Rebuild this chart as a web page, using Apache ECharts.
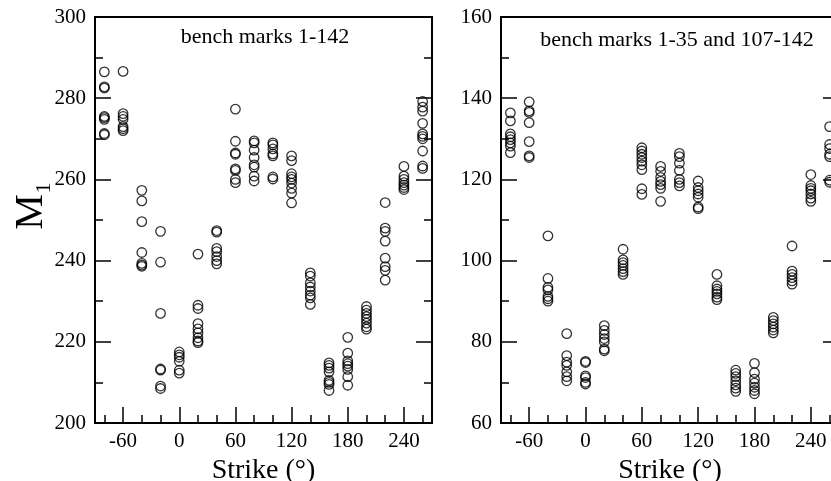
<!DOCTYPE html>
<html>
<head>
<meta charset="utf-8">
<script src="https://cdn.jsdelivr.net/npm/echarts@6/dist/echarts.min.js"></script>
<style>html,body{margin:0;padding:0;background:#fff;}#c{width:831px;height:481px;}</style>
</head>
<body>
<div id="c"></div>
<script>
// Strike columns (degrees)
const strikes = [-80, -60, -40, -20, 0, 20, 40, 60, 80, 100, 120, 140, 160, 180, 200, 220, 240, 260];
// Left panel: bench marks 1-142, M1 values per strike column
const leftM1 = [
  [286.5, 282.5, 282.8, 275.2, 275.5, 274.8, 271.0, 271.3],
  [286.6, 276.2, 275.5, 274.8, 273.0, 272.5, 272.0],
  [257.3, 254.7, 249.6, 242.0, 239.3, 238.9, 238.6],
  [247.2, 239.6, 227.0, 213.3, 213.0, 209.1, 208.5],
  [217.5, 216.8, 216.2, 215.2, 213.0, 212.3],
  [241.6, 229.0, 228.2, 224.5, 223.2, 222.2, 221.0, 220.2, 219.8],
  [247.4, 247.0, 243.0, 242.2, 241.0, 240.0, 239.2],
  [277.3, 269.4, 266.5, 266.2, 262.6, 262.2, 260.0, 259.2],
  [269.5, 269.0, 267.2, 265.4, 263.6, 263.0, 260.8, 259.6],
  [269.0, 268.5, 267.5, 266.3, 265.8, 260.6, 260.1],
  [265.8, 264.6, 261.4, 260.6, 260.0, 259.1, 257.8, 256.6, 254.2],
  [237.0, 236.2, 234.5, 233.5, 232.5, 231.5, 230.8, 229.2],
  [214.8, 214.2, 213.5, 212.6, 210.5, 210.0, 209.5, 208.0],
  [221.1, 217.2, 215.3, 214.6, 214.0, 213.2, 211.4, 209.3],
  [228.7, 227.8, 227.0, 226.2, 225.5, 224.6, 223.7, 223.1],
  [254.3, 248.0, 247.2, 244.8, 240.6, 238.5, 237.6, 235.2],
  [263.2, 260.8, 260.0, 259.2, 258.6, 258.0, 257.5],
  [279.2, 277.8, 276.8, 273.8, 271.2, 270.6, 270.0, 267.0, 263.3, 262.7]
];
// Right panel: bench marks 1-35 and 107-142
const rightM1 = [
  [136.4, 134.4, 131.2, 130.5, 129.8, 129.0, 128.2, 126.6],
  [139.1, 136.9, 136.5, 134.0, 129.3, 125.8, 125.4],
  [106.1, 95.6, 93.4, 92.8, 91.2, 90.6, 90.0],
  [82.0, 76.6, 75.0, 74.2, 72.6, 71.4, 70.4],
  [75.2, 74.9, 71.6, 71.2, 70.0, 69.6],
  [84.0, 82.8, 81.8, 80.8, 80.0, 78.2, 77.8],
  [102.8, 100.2, 99.5, 98.8, 98.0, 97.3, 96.6],
  [127.8, 127.0, 126.2, 125.4, 124.5, 123.6, 122.4, 117.7, 116.3],
  [123.2, 122.0, 120.5, 119.5, 118.7, 117.8, 114.6],
  [126.4, 125.6, 124.0, 122.2, 120.0, 119.2, 118.4],
  [119.6, 118.0, 117.2, 116.4, 115.6, 113.2, 112.8],
  [96.6, 93.8, 93.0, 92.4, 91.8, 91.0, 90.4],
  [73.0, 72.2, 71.4, 70.4, 69.4, 68.6, 67.8],
  [74.7, 72.4, 70.8, 69.8, 68.8, 68.0, 67.2],
  [86.0, 85.2, 84.4, 83.6, 82.9, 82.2],
  [103.6, 97.4, 96.6, 95.8, 95.0, 94.2],
  [121.2, 118.5, 117.8, 117.2, 116.4, 115.4, 114.6],
  [133.0, 128.6, 127.6, 126.2, 125.6, 119.8, 119.3]
];
const xMajorTicks = [-60, 0, 60, 120, 180, 240];
const xMinorTicks = [-80, -40, -20, 20, 40, 80, 100, 140, 160, 200, 220, 260];
const titles = ['bench marks 1-142', 'bench marks 1-35 and 107-142'];
const xTitle = 'Strike (°)';

function toPoints(vals) {
  const pts = [];
  strikes.forEach((s, i) => vals[i].forEach(v => pts.push([s, v])));
  return pts;
}

const FONT = 'Liberation Serif';
const grids = [
  {left: 95, top: 17, width: 337, height: 406},
  {left: 501, top: 17, width: 338, height: 406}
];
const yRanges = [[200, 300], [60, 160]];

const xAxes = [], yAxes = [];
grids.forEach((g, gi) => {
  xAxes.push({
    gridIndex: gi, type: 'value', min: -90, max: 270, position: 'bottom',
    name: xTitle, nameLocation: 'middle', nameGap: 27,
    nameTextStyle: {fontFamily: FONT, fontSize: 28, color: '#000'},
    axisLine: {show: true, onZero: false, lineStyle: {color: '#000', width: 2}},
    axisTick: {show: true, inside: true, length: 16, customValues: xMajorTicks, lineStyle: {color: '#000', width: 1.5}},
    axisLabel: {show: true, customValues: xMajorTicks, margin: 8, fontFamily: FONT, fontSize: 21, color: '#000'},
    splitLine: {show: false}
  });
  xAxes.push({
    gridIndex: gi, type: 'value', min: -90, max: 270, position: 'bottom',
    axisLine: {show: false, onZero: false},
    axisTick: {show: true, inside: true, length: 8, customValues: xMinorTicks, lineStyle: {color: '#000', width: 1.5}},
    axisLabel: {show: false, customValues: xMinorTicks},
    splitLine: {show: false}
  });
  yAxes.push({
    gridIndex: gi, type: 'value', min: yRanges[gi][0], max: yRanges[gi][1], interval: 20, position: 'left',
    axisLine: {show: true, onZero: false, lineStyle: {color: '#000', width: 2}},
    axisTick: {show: true, inside: true, length: 16, lineStyle: {color: '#000', width: 1.5}},
    minorTick: {show: true, splitNumber: 2, length: 8, lineStyle: {color: '#000', width: 1.5}},
    axisLabel: {margin: 9, fontFamily: FONT, fontSize: 21, color: '#000'},
    splitLine: {show: false}
  });
  yAxes.push({
    gridIndex: gi, type: 'value', min: yRanges[gi][0], max: yRanges[gi][1], interval: 20, position: 'right',
    axisLine: {show: true, onZero: false, lineStyle: {color: '#000', width: 2}},
    axisTick: {show: true, inside: true, length: 16, lineStyle: {color: '#000', width: 1.5}},
    minorTick: {show: true, splitNumber: 2, length: 8, lineStyle: {color: '#000', width: 1.5}},
    axisLabel: {show: false},
    splitLine: {show: false}
  });
});

const chart = echarts.init(document.getElementById('c'), null, {renderer: 'canvas'});
chart.setOption({
  animation: false,
  backgroundColor: '#fff',
  grid: grids.map(g => Object.assign({show: true, borderColor: '#000', borderWidth: 2, backgroundColor: 'transparent', outerBoundsMode: 'none', containLabel: false}, g)),
  xAxis: xAxes,
  yAxis: yAxes,
  graphic: [
    {type: 'text', x: 265, y: 37, style: {text: titles[0], font: '22px "Liberation Serif"', fill: '#000', textAlign: 'center', textVerticalAlign: 'middle'}},
    {type: 'text', x: 677, y: 40, style: {text: titles[1], font: '22px "Liberation Serif"', fill: '#000', textAlign: 'center', textVerticalAlign: 'middle'}},
    {type: 'text', x: 31, y: 212, rotation: Math.PI / 2, style: {text: 'M', font: '40px "Liberation Serif"', fill: '#000', textAlign: 'center', textVerticalAlign: 'middle'}},
    {type: 'text', x: 44, y: 188, rotation: Math.PI / 2, style: {text: '1', font: '22px "Liberation Serif"', fill: '#000', textAlign: 'center', textVerticalAlign: 'middle'}}
  ],
  series: [
    {type: 'scatter', xAxisIndex: 0, yAxisIndex: 0, symbol: 'circle', symbolSize: 9.5,
     itemStyle: {color: 'rgba(0,0,0,0)', borderColor: '#000', borderWidth: 1.3}, data: toPoints(leftM1)},
    {type: 'scatter', xAxisIndex: 2, yAxisIndex: 2, symbol: 'circle', symbolSize: 9.5,
     itemStyle: {color: 'rgba(0,0,0,0)', borderColor: '#000', borderWidth: 1.3}, data: toPoints(rightM1)}
  ]
});
</script>
</body>
</html>
